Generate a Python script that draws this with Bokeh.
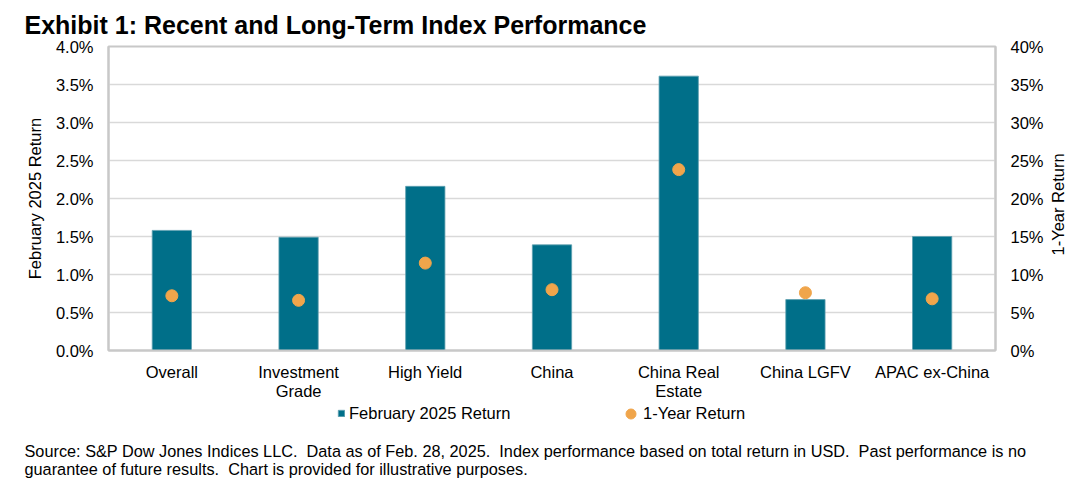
import math
from bokeh.plotting import figure
from bokeh.layouts import column
from bokeh.models import (Range1d, LinearAxis, NumeralTickFormatter, FixedTicker,
                          Title, Label, Legend, LegendItem, ColumnDataSource, FactorRange)
from bokeh.embed import file_html
from bokeh.resources import INLINE

# ---- data ----
categories = ["Overall", "Investment\nGrade", "High Yield", "China",
              "China Real\nEstate", "China LGFV", "APAC ex-China"]
feb_2025_return = [0.0158, 0.0149, 0.0216, 0.0139, 0.0361, 0.0067, 0.0150]
one_year_return = [0.072, 0.066, 0.115, 0.080, 0.238, 0.076, 0.068]
left_ticks = [0.0, 0.005, 0.01, 0.015, 0.02, 0.025, 0.03, 0.035, 0.04]
right_ticks = [0.0, 0.05, 0.10, 0.15, 0.20, 0.25, 0.30, 0.35, 0.40]

title_text = "Exhibit 1: Recent and Long-Term Index Performance"
left_label = "February 2025 Return"
right_label = "1-Year Return"
legend_labels = ["February 2025 Return", "1-Year Return"]
SP2 = "\u00a0 "  # double space that survives SVG whitespace collapsing
note_line1 = ("Source: S&P Dow Jones Indices LLC." + SP2 + "Data as of Feb. 28, 2025." + SP2 +
              "Index performance based on total return in USD." + SP2 +
              "Past performance is no")
note_line2 = ("guarantee of future results." + SP2 +
              "Chart is provided for illustrative purposes.")

FONT = "Liberation Sans"
BAR = "#006F89"
BAR_EDGE = "#5E9FB0"
DOT = "#F0A54B"
GRID = "#D9D9D9"
AXC = "#C8C8C8"
FS = "16.5px"
RIGHT_LABEL_ANCHOR = 0.125   # where the rotated right-hand title starts (styling only)

W = 1088
MAIN_H = 403
FOOT_H = 487 - MAIN_H

src = ColumnDataSource(dict(cat=categories, feb=feb_2025_return, yr=one_year_return))

p = figure(x_range=FactorRange(*categories), y_range=Range1d(0, 0.04),
           width=W, height=MAIN_H, output_backend="svg", toolbar_location=None,
           min_border_left=108, min_border_right=93, min_border_top=46,
           min_border_bottom=MAIN_H - 353)
p.extra_y_ranges = {"right": Range1d(0, 0.40)}

bars = p.vbar(x="cat", top="feb", width=0.31, source=src, fill_color=BAR,
              line_color=BAR_EDGE, line_width=0.8)
dots = p.scatter(x="cat", y="yr", source=src, y_range_name="right", size=12,
                 fill_color=DOT, line_color=DOT, marker="circle")

# axes
p.yaxis.ticker = FixedTicker(ticks=left_ticks)
p.yaxis.formatter = NumeralTickFormatter(format="0.0%")
p.yaxis.axis_label = left_label

ax_r = LinearAxis(y_range_name="right", ticker=FixedTicker(ticks=right_ticks),
                  formatter=NumeralTickFormatter(format="0%"))
p.add_layout(ax_r, "right")
# right-hand axis title, reading bottom-to-top like the reference
ax_r_title = LinearAxis(y_range_name="right", ticker=FixedTicker(ticks=[RIGHT_LABEL_ANCHOR]),
                        major_label_overrides={RIGHT_LABEL_ANCHOR: right_label},
                        major_label_orientation=math.pi / 2)
p.add_layout(ax_r_title, "right")

for ax in [p.yaxis[0], ax_r, ax_r_title, p.xaxis[0]]:
    ax.major_label_text_font = FONT
    ax.major_label_text_font_size = FS
    ax.major_label_text_color = "#000000"
    ax.axis_label_text_font = FONT
    ax.axis_label_text_font_size = FS
    ax.axis_label_text_font_style = "normal"
    ax.axis_label_text_color = "#000000"
    ax.major_tick_line_color = None
    ax.minor_tick_line_color = None
    ax.major_tick_out = 0
    ax.major_tick_in = 0
    ax.minor_tick_out = 0
    ax.minor_tick_in = 0
    ax.axis_line_color = AXC
    ax.axis_line_width = 2
ax_r_title.axis_line_color = None

p.yaxis[0].major_label_standoff = 15
p.yaxis[0].axis_label_standoff = 9
ax_r.major_label_standoff = 15
ax_r_title.major_label_standoff = 11
p.xaxis[0].major_label_standoff = 12
p.xaxis[0].major_label_text_line_height = 1.1

p.xgrid.visible = False
p.ygrid.ticker = FixedTicker(ticks=left_ticks)
p.ygrid.grid_line_color = GRID
p.ygrid.grid_line_width = 1.5
p.outline_line_color = AXC
p.outline_line_width = 2
p.background_fill_color = "white"
p.border_fill_color = "white"

p.add_layout(Title(text=title_text, align="left", offset=-84, standoff=15,
                   text_font=FONT, text_font_size="25px", text_font_style="bold",
                   text_line_height=1.0, text_color="#000000"), "above")

# ---- footer: legend + source note (same categorical x range, no axes) ----
f = figure(width=W, height=FOOT_H, x_range=p.x_range, y_range=Range1d(0, 0.04),
           output_backend="svg", toolbar_location=None, min_border=0,
           x_axis_type=None, y_axis_type=None)
f.grid.visible = False
f.outline_line_color = None
f.background_fill_color = "white"
f.border_fill_color = "white"
f.extra_y_ranges = {"right": Range1d(0, 0.40)}

# legend proxies (hidden copies of the chart's renderers, used only for the legend swatches)
proxy_bar = f.vbar(x="cat", top="feb", width=0.31, source=src, fill_color=BAR,
                   line_color=BAR_EDGE, line_width=0.8, visible=False)
proxy_dot = f.scatter(x="cat", y="yr", source=src, size=12, fill_color=DOT,
                      line_color=DOT, marker="circle", y_range_name="right",
                      visible=False)

common = dict(orientation="horizontal", padding=0, margin=0, border_line_color=None,
              background_fill_alpha=0, label_text_font=FONT, label_text_font_size=FS,
              label_text_color="#000000", inactive_fill_alpha=0)
leg1 = Legend(items=[LegendItem(label=legend_labels[0], renderers=[proxy_bar])],
              location=(337, FOOT_H - 20), glyph_width=8, glyph_height=8,
              label_standoff=4, label_height=20, **common)
leg2 = Legend(items=[LegendItem(label=legend_labels[1], renderers=[proxy_dot])],
              location=(618, FOOT_H - 22.5), glyph_width=25, glyph_height=25,
              label_standoff=0, label_height=20, **common)
f.add_layout(leg1, "center")
f.add_layout(leg2, "center")

for txt, yy in [(note_line1, FOOT_H - 47), (note_line2, FOOT_H - 65)]:
    f.add_layout(Label(x=24, y=yy, x_units="screen", y_units="screen", text=txt,
                       text_font=FONT, text_font_size="16.3px",
                       text_baseline="middle", text_align="left", text_color="#000000"))

if "frame_align" in f.properties():
    f.frame_align = False
    p.frame_align = False
    doc_root = column(p, f, spacing=0)
else:
    doc_root = [p, f]

open("out.html", "w").write(file_html(doc_root, INLINE))
